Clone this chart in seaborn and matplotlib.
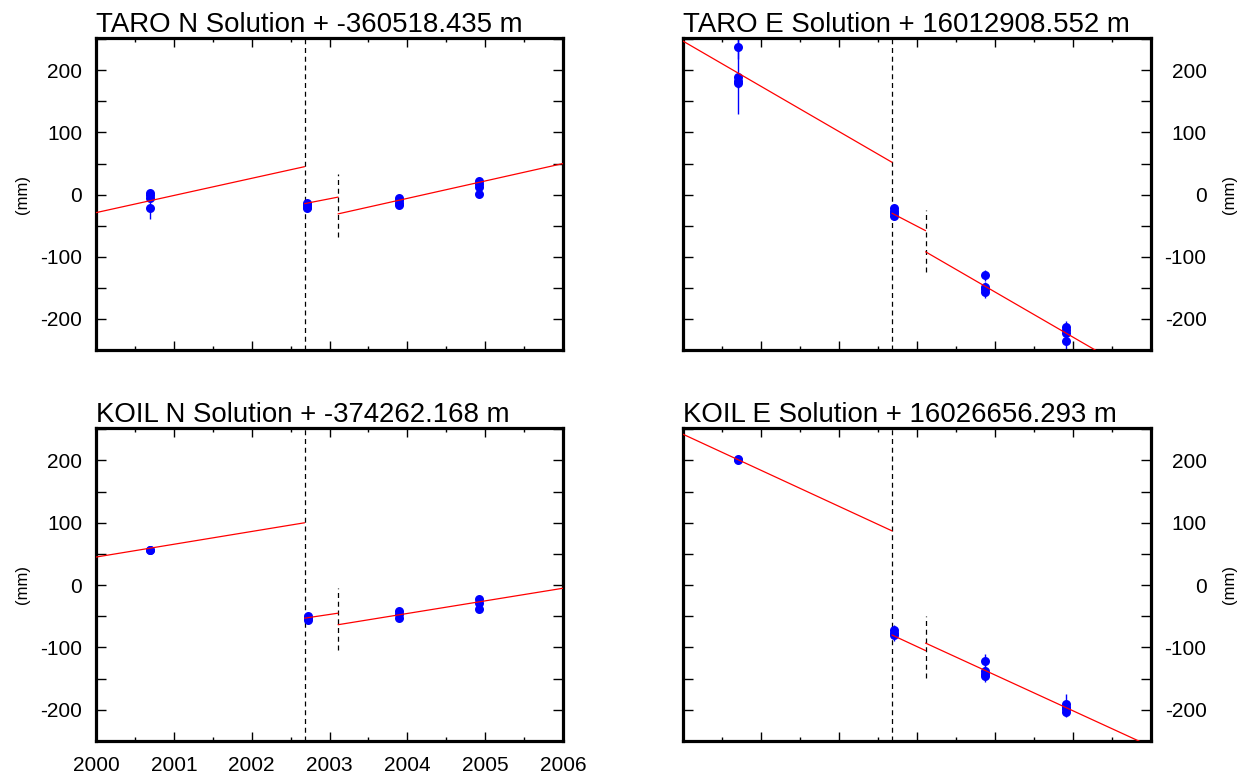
import numpy as np
import pandas as pd
import matplotlib
matplotlib.use("Agg")
import matplotlib.pyplot as plt
from matplotlib.ticker import MultipleLocator, FuncFormatter
import seaborn as sns

sns.set_style("ticks")
plt.rcParams["font.family"] = ["Liberation Sans", "DejaVu Sans"]
plt.rcParams["axes.unicode_minus"] = False
plt.rcParams["text.color"] = "black"
plt.rcParams["axes.labelcolor"] = "black"

# Break epochs (decimal years)
quake_epoch = 2002.68
second_break = 2003.11

# Model segment boundaries shared by every component
seg_start = [2000.0, quake_epoch, second_break]
seg_end = [quake_epoch, second_break, 2006.0]

# Model values (mm) at the start and end of each segment
taro_n_seg = [(-29, 45), (-14.5, -4), (-31, 50)]
taro_e_seg = [(247, 52), (-30, -58), (-92, -302)]
koil_n_seg = [(45, 100), (-53, -45), (-63.5, -5)]
koil_e_seg = [(242, 87), (-80, -105), (-93, -259)]

# Daily solutions: epoch, offset (mm) and sigma (mm)
taro_n_t = [2000.70] * 4 + [2002.71] * 4 + [2003.89] * 4 + [2004.92] * 4
taro_n_y = [3, -1, -6, -22, -14, -17, -20, -22, -5, -9, -13, -17, 22, 17, 13, 1]
taro_n_err = [4, 4, 4, 18, 4, 4, 4, 4, 4, 4, 4, 4, 4, 4, 4, 4]

taro_e_t = [2000.70] * 4 + [2002.71] * 4 + [2003.87] * 4 + [2004.91] * 4
taro_e_y = [237, 190, 183, 179, -22, -26, -30, -35, -130, -148, -152, -157, -213, -218, -222, -235]
taro_e_err = [18, 60, 8, 8, 6, 6, 6, 6, 9, 8, 8, 9, 10, 8, 8, 15]

koil_n_t = [2000.70] * 2 + [2002.72] * 3 + [2003.89] * 3 + [2004.92] * 3
koil_n_y = [57, 56, -49, -53, -56, -42, -47, -52, -23, -28, -39]
koil_n_err = [3, 3, 4, 4, 4, 4, 4, 4, 4, 4, 4]

koil_e_t = [2000.70] * 2 + [2002.71] * 3 + [2003.87] * 4 + [2004.91] * 4
koil_e_y = [203, 200, -72, -76, -80, -122, -138, -142, -146, -191, -195, -199, -203]
koil_e_err = [5, 5, 8, 8, 10, 12, 8, 8, 10, 17, 8, 8, 8]

titles = [
    "TARO N Solution + -360518.435 m",
    "TARO E Solution + 16012908.552 m",
    "KOIL N Solution + -374262.168 m",
    "KOIL E Solution + 16026656.293 m",
]
year_ticks = [2000, 2001, 2002, 2003, 2004, 2005, 2006]

panels = [
    (titles[0], taro_n_t, taro_n_y, taro_n_err, taro_n_seg),
    (titles[1], taro_e_t, taro_e_y, taro_e_err, taro_e_seg),
    (titles[2], koil_n_t, koil_n_y, koil_n_err, koil_n_seg),
    (titles[3], koil_e_t, koil_e_y, koil_e_err, koil_e_seg),
]

W, H = 1256, 778
fig = plt.figure(figsize=(W / 100, H / 100), dpi=100)
boxes = [(96, 38, 563, 350), (683, 38, 1151, 350),
         (96, 428, 563, 741), (683, 428, 1151, 741)]

for i, ((title, t, y, err, seg), (x0, y0, x1, y1)) in enumerate(zip(panels, boxes)):
    ax = fig.add_axes([x0 / W, 1 - y1 / H, (x1 - x0) / W, (y1 - y0) / H])
    right = i % 2 == 1
    bottom_left = i == 2

    pts = pd.DataFrame({"t": t, "y": y, "err": err})
    ax.errorbar(pts["t"], pts["y"], yerr=pts["err"], fmt="none",
                ecolor="#0000ff", elinewidth=1.0, zorder=2)
    sns.scatterplot(data=pts, x="t", y="y", ax=ax, color="#0000ff",
                    s=42, linewidth=0, zorder=3, legend=False)

    lines = pd.DataFrame({
        "t": [v for a, b in zip(seg_start, seg_end) for v in (a, b)],
        "y": [v for pair in seg for v in pair],
        "seg": [k for k in range(3) for _ in range(2)],
    })
    sns.lineplot(data=lines, x="t", y="y", units="seg", estimator=None,
                 color="#ff0000", linewidth=0.9, ax=ax, zorder=4, legend=False)

    ax.axvline(quake_epoch, color="black", linewidth=0.9,
               linestyle=(0, (4, 3)), zorder=1)
    mid = (seg[1][1] + seg[2][0]) / 2
    ax.vlines(second_break, mid - 50, mid + 50, color="black", linewidth=0.9,
              linestyle=(0, (4, 3)), zorder=1)

    ax.set_xlim(2000, 2006)
    ax.set_ylim(-250, 252)
    ax.xaxis.set_major_locator(MultipleLocator(1))
    ax.xaxis.set_minor_locator(MultipleLocator(0.5))
    ax.yaxis.set_major_locator(MultipleLocator(50))
    ax.yaxis.set_major_formatter(FuncFormatter(
        lambda v, p: f"{int(round(v))}" if round(v) % 100 == 0 else ""))
    if bottom_left:
        ax.set_xticks(year_ticks)
        ax.set_xticklabels([str(v) for v in year_ticks])

    ax.tick_params(axis="both", which="both", direction="in", top=True,
                   right=True, left=True, bottom=True, width=1.0,
                   colors="black", labelcolor="black")
    ax.tick_params(axis="x", which="major", length=6.5, labelsize=15, pad=11,
                   labelbottom=bottom_left)
    ax.tick_params(axis="x", which="minor", length=3)
    if right:
        ax.tick_params(axis="y", which="major", length=7, labelsize=15, pad=40,
                       labelleft=False, labelright=True)
        for lab in ax.get_yticklabels():
            lab.set_horizontalalignment("right")
    else:
        ax.tick_params(axis="y", which="major", length=7, labelsize=15, pad=10,
                       labelleft=True, labelright=False)

    for sp in ax.spines.values():
        sp.set_linewidth(2.3)
        sp.set_color("black")

    ax.set_xlabel("")
    if right:
        ax.yaxis.set_label_position("right")
        ax.set_ylabel("(mm)", fontsize=12, labelpad=11)
    else:
        ax.set_ylabel("(mm)", fontsize=12, labelpad=7)
    ax.set_title(title, loc="left", fontsize=19.9, pad=3, color="black")

fig.savefig("out.png", dpi=100)
